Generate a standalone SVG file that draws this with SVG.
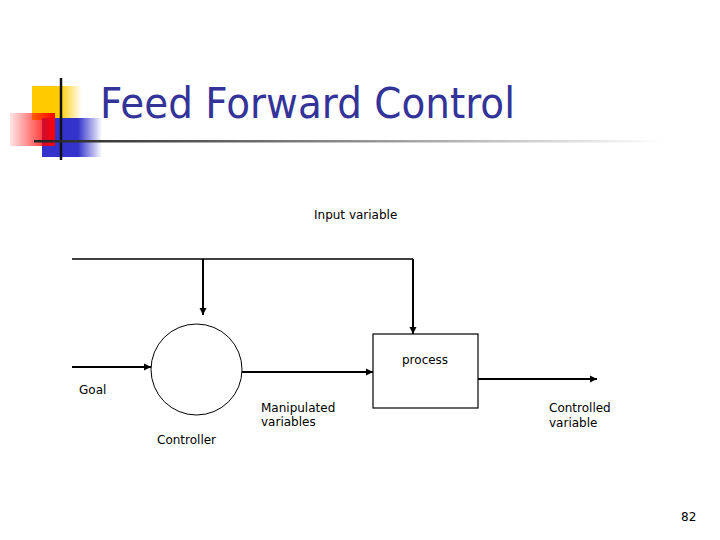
<svg xmlns="http://www.w3.org/2000/svg" width="720" height="540" viewBox="0 0 720 540">
<defs>
<linearGradient id="yel" x1="0" y1="0" x2="1" y2="0"><stop offset="0" stop-color="#ffcc00"/><stop offset="0.55" stop-color="#ffcc00"/><stop offset="1" stop-color="#ffcc00" stop-opacity="0"/></linearGradient>
<linearGradient id="red" x1="0" y1="0" x2="1" y2="0"><stop offset="0" stop-color="#ff0000" stop-opacity="0.1"/><stop offset="1" stop-color="#ff0000"/></linearGradient>
<linearGradient id="blu" x1="0" y1="0" x2="1" y2="0"><stop offset="0" stop-color="#3333cc"/><stop offset="0.6" stop-color="#3333cc"/><stop offset="1" stop-color="#3333cc" stop-opacity="0"/></linearGradient>
<linearGradient id="rule" x1="0" y1="0" x2="1" y2="0"><stop offset="0" stop-color="#222"/><stop offset="0.4" stop-color="#777"/><stop offset="1" stop-color="#fff"/></linearGradient>
<marker id="ah" markerWidth="8" markerHeight="8" refX="7" refY="4" orient="auto" markerUnits="userSpaceOnUse"><path d="M0,0.5 L7,4 L0,7.5 Z" fill="#000"/></marker>
<style>
.lbl{font-family:"DejaVu Sans",Verdana,sans-serif;font-size:12px;fill:#000}
.ar{stroke:#000;stroke-width:2;fill:none;marker-end:url(#ah)}
.ln{stroke:#000;stroke-width:1.5;fill:none}
</style>
</defs>
<rect width="720" height="540" fill="#fff"/>
<g id="decor">
<rect x="32" y="86" width="50" height="34" fill="url(#yel)"/>
<rect x="42" y="118" width="60" height="39" fill="url(#blu)"/>
<rect x="10" y="113" width="45" height="33" fill="url(#red)"/>
<line x1="61" y1="78" x2="61" y2="160" stroke="#111" stroke-width="2.5"/>
<rect x="34" y="140" width="630" height="2.5" fill="url(#rule)"/>
</g>
<text id="title" x="100" y="118" font-family="DejaVu Sans,Verdana,sans-serif" font-size="42" fill="#333399" textLength="415" lengthAdjust="spacingAndGlyphs">Feed Forward Control</text>
<g id="connectors">
<path class="ln" d="M72,259 H413"/>
<path class="ar" d="M203,259 V315"/>
<path class="ar" d="M413,259 V334"/>
<path class="ar" d="M72,367 H151"/>
<path class="ar" d="M242,372 H373"/>
<path class="ar" d="M478,379 H597"/>
</g>
<g id="controller">
<circle cx="196.5" cy="369.5" r="45.5" fill="#fff" stroke="#000" stroke-width="1"/>
<text class="lbl" x="157" y="444">Controller</text>
</g>
<g id="process">
<rect x="373" y="334" width="105" height="74" fill="#fff" stroke="#000" stroke-width="1.2"/>
<text class="lbl" x="402" y="364">process</text>
</g>
<g id="labels">
<text class="lbl" x="314" y="219">Input variable</text>
<text class="lbl" x="79" y="394">Goal</text>
<text class="lbl" x="261" y="412">Manipulated</text>
<text class="lbl" x="261" y="426">variables</text>
<text class="lbl" x="549" y="412">Controlled</text>
<text class="lbl" x="549" y="427">variable</text>
<text class="lbl" x="681" y="521" font-size="13">82</text>
</g>
</svg>
